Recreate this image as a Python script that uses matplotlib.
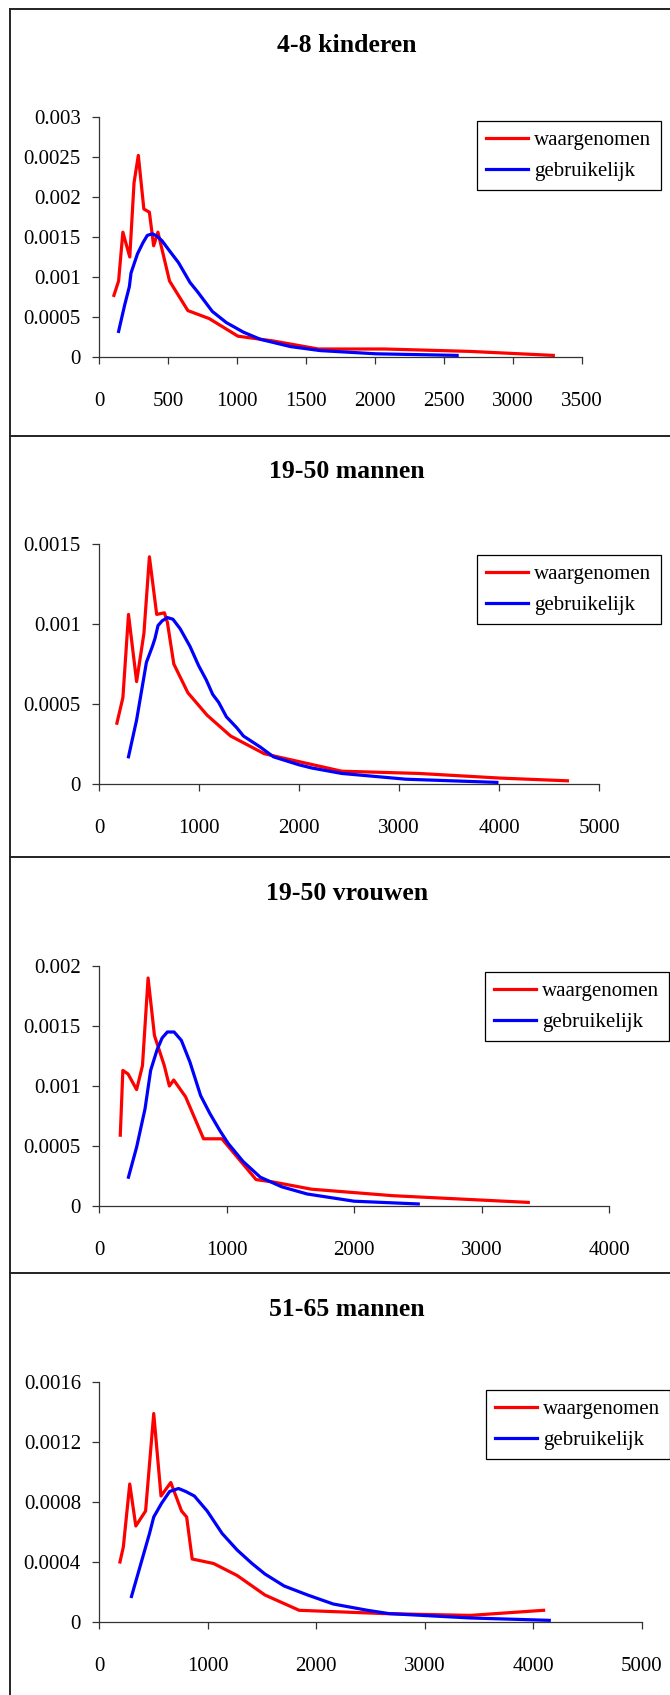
import matplotlib.pyplot as plt
from matplotlib.lines import Line2D

plt.rcParams['font.family'] = ['Liberation Serif', 'DejaVu Serif']

W, H = 670, 1695

# ---- data ----
titles = ['4-8 kinderen', '19-50 mannen', '19-50 vrouwen', '51-65 mannen']
legend_labels = ['waargenomen', 'gebruikelijk']

# 4-8 kinderen
kind_obs_x = [108, 142, 173, 223, 254, 285, 325, 365, 396, 427, 511, 644, 799, 1007, 1264, 1589, 2069, 2688, 3292]
kind_obs_y = [0.00077, 0.00095, 0.00156, 0.00125, 0.00218, 0.00252, 0.00185, 0.00181, 0.00139, 0.00156,
              0.00095, 0.00058, 0.00048, 0.00026, 0.0002, 0.0001, 0.0001, 0.00007, 0.00002]
kind_use_x = [142, 186, 220, 232, 279, 319, 350, 387, 421, 458, 514, 576, 660, 712, 821, 923, 1047, 1171,
              1388, 1604, 2007, 2595]
kind_use_y = [0.00032, 0.00065, 0.00088, 0.00105, 0.00129, 0.00143, 0.00152, 0.00154, 0.00151, 0.00145,
              0.00132, 0.00118, 0.00093, 0.00082, 0.00057, 0.00043, 0.00031, 0.00022, 0.00013, 0.00008,
              0.00004, 0.00002]

# 19-50 mannen
man_obs_x = [179, 239, 295, 376, 449, 504, 577, 654, 684, 748, 889, 1081, 1316, 1650, 1786, 2427, 3197, 4009, 4684]
man_obs_y = [0.00038, 0.00054, 0.00106, 0.00064, 0.00094, 0.00142, 0.00106, 0.00107, 0.00101, 0.00075,
             0.00057, 0.00043, 0.0003, 0.00019, 0.00017, 0.00008, 0.000066, 0.000037, 0.00002]
man_use_x = [295, 376, 474, 534, 560, 590, 632, 684, 739, 812, 910, 996, 1073, 1137, 1197, 1274, 1380, 1444,
             1615, 1744, 2000, 2128, 2427, 3068, 3979]
man_use_y = [0.00017, 0.0004, 0.00076, 0.00086, 0.00091, 0.00099, 0.00102, 0.00104, 0.00103, 0.00097,
             0.00086, 0.00074, 0.00065, 0.00056, 0.00051, 0.00042, 0.00035, 0.0003, 0.00023, 0.00017,
             0.00012, 0.0001, 0.000066, 0.00003, 0.00001]

# 19-50 vrouwen
vrouw_obs_x = [167, 187, 228, 295, 341, 385, 435, 512, 552, 586, 679, 820, 964, 1232, 1366, 1667, 2303, 3367]
vrouw_obs_y = [0.00059, 0.00113, 0.0011, 0.00097, 0.00117, 0.0019, 0.00142, 0.00117, 0.001, 0.00105,
               0.00091, 0.00056, 0.00056, 0.00022, 0.0002, 0.00014, 0.000086, 0.00003]
vrouw_use_x = [231, 295, 361, 405, 455, 495, 536, 589, 646, 713, 797, 870, 947, 1014, 1131, 1265, 1433, 1633,
               2001, 2504]
vrouw_use_y = [0.00024, 0.00049, 0.00081, 0.00113, 0.0013, 0.0014, 0.00145, 0.00145, 0.00138, 0.0012,
               0.00092, 0.00077, 0.00063, 0.00052, 0.00037, 0.00024, 0.00016, 0.0001, 0.00004, 0.000017]

# 51-65 mannen
oud_obs_x = [193, 224, 283, 339, 429, 504, 571, 661, 760, 807, 858, 1055, 1272, 1528, 1843, 2630, 3417, 4094]
oud_obs_y = [0.0004, 0.0005, 0.00092, 0.00064, 0.00074, 0.00139, 0.00084, 0.00093, 0.00074, 0.0007,
             0.00042, 0.00039, 0.00031, 0.00018, 0.000078, 0.000056, 0.000044, 0.000078]
oud_use_x = [299, 386, 465, 504, 575, 650, 732, 799, 878, 996, 1134, 1272, 1409, 1528, 1705, 1921, 2157,
             2472, 2669, 3417, 4146]
oud_use_y = [0.00017, 0.00039, 0.00059, 0.0007, 0.00079, 0.00087, 0.00089, 0.00087, 0.00084, 0.00074,
             0.00059, 0.00048, 0.00039, 0.00032, 0.00024, 0.00018, 0.00012, 0.000078, 0.000056,
             0.000027, 0.000011]

kind_xticks = [0, 500, 1000, 1500, 2000, 2500, 3000, 3500]
kind_yticks = [0, 0.0005, 0.001, 0.0015, 0.002, 0.0025, 0.003]
kind_ylabels = ['0', '0.0005', '0.001', '0.0015', '0.002', '0.0025', '0.003']
man_xticks = [0, 1000, 2000, 3000, 4000, 5000]
man_yticks = [0, 0.0005, 0.001, 0.0015]
man_ylabels = ['0', '0.0005', '0.001', '0.0015']
vrouw_xticks = [0, 1000, 2000, 3000, 4000]
vrouw_yticks = [0, 0.0005, 0.001, 0.0015, 0.002]
vrouw_ylabels = ['0', '0.0005', '0.001', '0.0015', '0.002']
oud_xticks = [0, 1000, 2000, 3000, 4000, 5000]
oud_yticks = [0, 0.0004, 0.0008, 0.0012, 0.0016]
oud_ylabels = ['0', '0.0004', '0.0008', '0.0012', '0.0016']

panels = [
    (kind_obs_x, kind_obs_y, kind_use_x, kind_use_y, kind_xticks, kind_yticks, kind_ylabels),
    (man_obs_x, man_obs_y, man_use_x, man_use_y, man_xticks, man_yticks, man_ylabels),
    (vrouw_obs_x, vrouw_obs_y, vrouw_use_x, vrouw_use_y, vrouw_xticks, vrouw_yticks, vrouw_ylabels),
    (oud_obs_x, oud_obs_y, oud_use_x, oud_use_y, oud_xticks, oud_yticks, oud_ylabels),
]

# layout in pixels: axes left/right/top/bottom, title y, legend top-left
ax_boxes = [(99, 582, 117, 357), (99, 599, 544, 784), (99, 609, 966, 1206), (99, 642, 1382, 1622)]
title_y = [46, 472, 893, 1310]
legend_xy = [(477, 121), (477, 555), (485, 972), (486, 1390)]
sep_y = [9, 436, 857, 1273]

fig = plt.figure(figsize=(W / 100, H / 100), dpi=100)

for i, (ox, oy, ux, uy, xt, yt, yl) in enumerate(panels):
    l, r, t, b = ax_boxes[i]
    ax = fig.add_axes([l / W, 1 - b / H, (r - l) / W, (b - t) / H])
    ax.plot(ox, oy, color='#ff0000', lw=2.3, solid_joinstyle='round', label=legend_labels[0])
    ax.plot(ux, uy, color='#0000ff', lw=2.3, solid_joinstyle='round', label=legend_labels[1])
    ax.set_xlim(xt[0], xt[-1])
    ax.set_ylim(yt[0], yt[-1])
    ax.set_xticks(xt)
    ax.set_xticklabels([str(v) for v in xt])
    ax.set_yticks(yt)
    ax.set_yticklabels(yl)
    for s in ['top', 'right']:
        ax.spines[s].set_visible(False)
    for s in ['left', 'bottom']:
        ax.spines[s].set_color('#333333')
        ax.spines[s].set_linewidth(0.9)
    ax.tick_params(axis='both', direction='out', length=5, width=0.9, color='#333333', labelsize=15)
    ax.tick_params(axis='x', pad=20)
    ax.tick_params(axis='y', pad=8)
    ax.patch.set_alpha(0)
    ax.set_clip_on(False)

    fig.text(347 / W, 1 - title_y[i] / H, titles[i], ha='center', va='center',
             fontsize=18.5, fontweight='bold')

    lx, ly = legend_xy[i]
    leg = ax.legend(loc='upper left', bbox_to_anchor=(lx / W, 1 - ly / H), bbox_transform=fig.transFigure,
                    borderaxespad=0, fontsize=15, frameon=True, fancybox=False, framealpha=1,
                    edgecolor='black', handlelength=2.0, handletextpad=0.3, labelspacing=0.55,
                    borderpad=0.45)
    leg.get_frame().set_linewidth(0.9)

# outer frame lines
fig.add_artist(Line2D([10 / W, 10 / W], [1 - 9 / H, 0], color='black', lw=1.2))
for y in sep_y:
    fig.add_artist(Line2D([10 / W, 1], [1 - y / H, 1 - y / H], color='#222222', lw=1.4))

fig.savefig('out.png', dpi=100)
